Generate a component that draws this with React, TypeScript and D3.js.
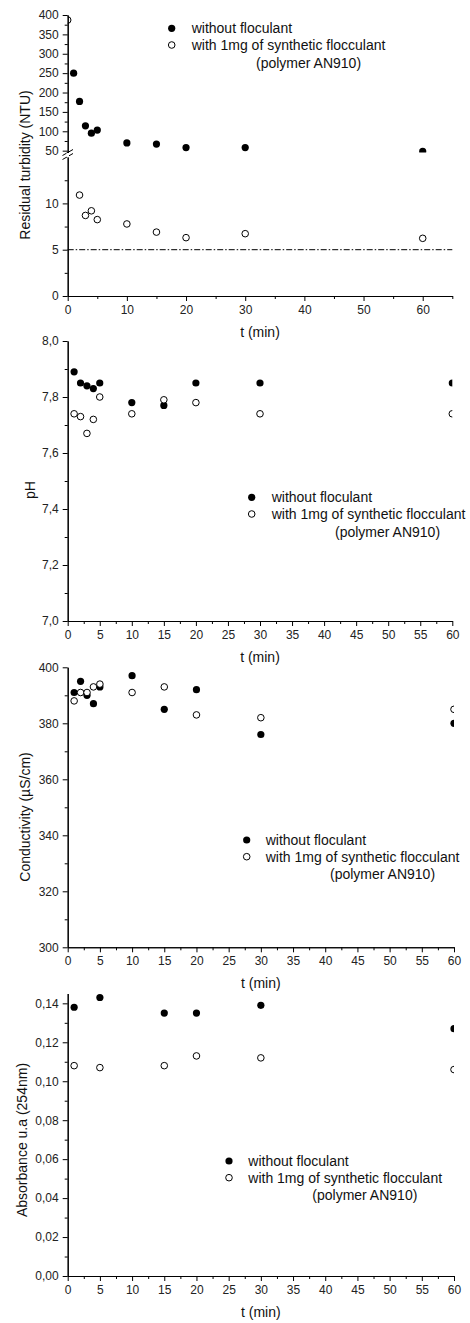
import React, { useEffect, useRef } from "react";
import * as d3 from "d3";

// time points (min)
const times = [1, 2, 3, 4, 5, 10, 15, 20, 30, 60];
const turbTimesWith = [0, 2, 3, 4, 5, 10, 15, 20, 30, 60];
const absTimes = [1, 5, 15, 20, 30, 60];

// residual turbidity (NTU)
const turbWithout = [250, 177, 114, 95, 103, 70, 67, 58, 58, 48];
const turbWith = [387, 10.9, 8.7, 9.2, 8.25, 7.78, 6.9, 6.3, 6.73, 6.23];
const turbLimit = 5;

// pH
const phWithout = [7.89, 7.85, 7.84, 7.83, 7.85, 7.78, 7.77, 7.85, 7.85, 7.85];
const phWith = [7.74, 7.73, 7.67, 7.72, 7.8, 7.74, 7.79, 7.78, 7.74, 7.74];

// conductivity (µS/cm)
const condWithout = [391, 395, 390, 387, 393, 397, 385, 392, 376, 380];
const condWith = [388, 391, 391, 393, 394, 391, 393, 383, 382, 385];

// absorbance 254nm
const absWithout = [0.138, 0.143, 0.135, 0.135, 0.139, 0.127];
const absWith = [0.108, 0.107, 0.108, 0.113, 0.112, 0.106];

const legendLabels = [
	"without floculant",
	"with 1mg of synthetic flocculant",
	"(polymer AN910)"
];

const FONT = "'Liberation Sans', Arial, Helvetica, sans-serif";
const TXT = "#111";
const R = 3.6;

const comma = (digits: number) => (d: any) =>
	d3.format(`.${digits}f`)(d).replace(".", ",");

function range(a: number, b: number, step: number) {
	const out: number[] = [];
	for (let v = a; v <= b + step / 1000; v += step) out.push(+v.toFixed(6));
	return out;
}

// draw an axis with major + minor ticks
function drawAxis(g: any, axisFn: any, scale: any, major: number[], minor: number[], fmt: any) {
	g.selectAll("*").remove();
	g.append("g").call(
		axisFn(scale).tickValues(minor).tickSize(3).tickSizeOuter(0).tickFormat(() => "")
	);
	g.append("g").call(
		axisFn(scale).tickValues(major).tickSize(5).tickSizeOuter(0).tickPadding(4).tickFormat(fmt)
	);
	g.selectAll("path.domain").attr("stroke", "#000").attr("stroke-width", 1.1);
	g.selectAll("line").attr("stroke", "#000").attr("stroke-width", 1);
	g.selectAll("text")
		.attr("font-family", FONT)
		.attr("font-size", 12)
		.attr("fill", "#222");
}

function Legend({ x, y, textX, polyX }: any) {
	return (
		<g fontFamily={FONT} fontSize={14} fill={TXT}>
			<circle cx={x} cy={y} r={R} fill="#000" />
			<text x={textX} y={y} dy="0.35em">{legendLabels[0]}</text>
			<circle cx={x} cy={y + 16.7} r={R - 0.3} fill="#fff" stroke="#000" strokeWidth={1} />
			<text x={textX} y={y + 16.7} dy="0.35em">{legendLabels[1]}</text>
			<text x={polyX} y={y + 34.5} dy="0.35em">{legendLabels[2]}</text>
		</g>
	);
}

function Points({ xs, ys, x, y, open, clip }: any) {
	return (
		<g clipPath={clip ? `url(#${clip})` : undefined}>
			{ys.map((v: number, i: number) => (
				<circle
					key={i}
					cx={x(xs[i])}
					cy={y(v)}
					r={open ? R - 0.3 : R}
					fill={open ? "#fff" : "#000"}
					stroke="#000"
					strokeWidth={open ? 1 : 0}
				/>
			))}
		</g>
	);
}

function TurbidityPanel() {
	const xAxisRef = useRef<SVGGElement>(null);
	const yUpRef = useRef<SVGGElement>(null);
	const yLowRef = useRef<SVGGElement>(null);

	const x = d3.scaleLinear().domain([0, 65]).range([67.7, 452.3]);
	const yUp = d3.scaleLinear().domain([45, 400]).range([152.6, 15]);
	const yLow = d3.scaleLinear().domain([0, 15]).range([296, 157.1]);

	useEffect(() => {
		drawAxis(d3.select(xAxisRef.current), d3.axisBottom, x, range(0, 60, 10), range(5, 65, 10), (d: any) => d);
		drawAxis(d3.select(yUpRef.current), d3.axisLeft, yUp, range(50, 400, 50), range(75, 375, 50), (d: any) => d);
		drawAxis(d3.select(yLowRef.current), d3.axisLeft, yLow, [0, 5, 10], [2.5, 7.5, 12.5], (d: any) => d);
	}, []);

	const ln = d3.line<number>().x((d) => d).y(() => yLow(turbLimit));

	return (
		<g>
			<defs>
				<clipPath id="clipUp">
					<rect x={67.7} y={5} width={400} height={152.6 - 5} />
				</clipPath>
				<clipPath id="clipLow">
					<rect x={67.7} y={157.1} width={400} height={296 - 157.1} />
				</clipPath>
			</defs>
			<path
				d={ln([x(0), x(65)]) || ""}
				stroke="#000"
				strokeWidth={1}
				strokeDasharray="6,2,1.5,2"
				fill="none"
			/>
			<Points xs={times} ys={turbWithout} x={x} y={yUp} clip="clipUp" />
			<Points xs={turbTimesWith.slice(0, 1)} ys={turbWith.slice(0, 1)} x={x} y={yUp} open clip="clipUp" />
			<Points xs={turbTimesWith.slice(1)} ys={turbWith.slice(1)} x={x} y={yLow} open clip="clipLow" />
			<g ref={xAxisRef} transform="translate(0,296)" />
			<g ref={yUpRef} transform="translate(67.7,0)" />
			<g ref={yLowRef} transform="translate(67.7,0)" />
			{/* axis break marks */}
			<g stroke="#000" strokeWidth={1}>
				<line x1={62.5} y1={155.5} x2={73} y2={149.5} />
				<line x1={62.5} y1={159.5} x2={73} y2={153.5} />
			</g>
			<rect x={66.5} y={153} width={2.5} height={4} fill="#fff" />
			<text
				transform="translate(25,165) rotate(-90)"
				textAnchor="middle"
				dy="0.35em"
				fontFamily={FONT}
				fontSize={14}
				fill={TXT}
			>
				Residual turbidity (NTU)
			</text>
			<text x={260} y={332} dy="0.35em" textAnchor="middle" fontFamily={FONT} fontSize={14} fill={TXT}>
				t (min)
			</text>
			<Legend x={171.7} y={28.3} textX={191.7} polyX={256} />
		</g>
	);
}

function Panel({ id, xRight, yTop, yBottom, yDomain, xs, without, withF, yMajor, yMinor, fmt, title, titleX, titleY, tLabelY, legend }: any) {
	const xRef = useRef<SVGGElement>(null);
	const yRef = useRef<SVGGElement>(null);
	const x = d3.scaleLinear().domain([0, 60]).range([67.7, xRight]);
	const y = d3.scaleLinear().domain(yDomain).range([yBottom, yTop]);

	useEffect(() => {
		drawAxis(d3.select(xRef.current), d3.axisBottom, x, range(0, 60, 5), range(2.5, 57.5, 5), (d: any) => d);
		drawAxis(d3.select(yRef.current), d3.axisLeft, y, yMajor, yMinor, fmt);
	}, []);

	return (
		<g>
			<defs>
				<clipPath id={id}>
					<rect x={67.7} y={yTop - 10} width={xRight - 67.7} height={yBottom - yTop + 10} />
				</clipPath>
			</defs>
			<Points xs={xs} ys={without} x={x} y={y} clip={id} />
			<Points xs={xs} ys={withF} x={x} y={y} open clip={id} />
			<g ref={xRef} transform={`translate(0,${yBottom})`} />
			<g ref={yRef} transform="translate(67.7,0)" />
			<text
				transform={`translate(${titleX},${titleY}) rotate(-90)`}
				textAnchor="middle"
				dy="0.35em"
				fontFamily={FONT}
				fontSize={14}
				fill={TXT}
			>
				{title}
			</text>
			<text x={(67.7 + xRight) / 2} y={tLabelY} dy="0.35em" textAnchor="middle" fontFamily={FONT} fontSize={14} fill={TXT}>
				t (min)
			</text>
			<Legend {...legend} />
		</g>
	);
}

export default function App() {
	return (
		<svg
			width={470}
			height={1323}
			style={{ position: "absolute", left: 0, top: 0, background: "#fff" }}
		>
			<rect width={470} height={1323} fill="#fff" />
			<TurbidityPanel />
			<Panel
				id="clipPh"
				xRight={452.3}
				yTop={341}
				yBottom={621}
				yDomain={[7.0, 8.0]}
				xs={times}
				without={phWithout}
				withF={phWith}
				yMajor={range(7.0, 8.0, 0.2)}
				yMinor={range(7.1, 7.9, 0.2)}
				fmt={comma(1)}
				title="pH"
				titleX={30}
				titleY={490}
				tLabelY={656.7}
				legend={{ x: 251.7, y: 497.3, textX: 271.7, polyX: 335 }}
			/>
			<Panel
				id="clipCond"
				xRight={454}
				yTop={667.3}
				yBottom={947.3}
				yDomain={[300, 400]}
				xs={times}
				without={condWithout}
				withF={condWith}
				yMajor={range(300, 400, 20)}
				yMinor={range(310, 390, 20)}
				fmt={(d: any) => d}
				title="Conductivity (µS/cm)"
				titleX={25}
				titleY={817}
				tLabelY={983.3}
				legend={{ x: 246.7, y: 840, textX: 265.7, polyX: 330 }}
			/>
			<Panel
				id="clipAbs"
				xRight={454}
				yTop={993.6}
				yBottom={1276}
				yDomain={[0, 0.145]}
				xs={absTimes}
				without={absWithout}
				withF={absWith}
				yMajor={range(0, 0.14, 0.02)}
				yMinor={range(0.01, 0.13, 0.02)}
				fmt={comma(2)}
				title="Absorbance u.a (254nm)"
				titleX={22.5}
				titleY={1140}
				tLabelY={1311.7}
				legend={{ x: 229, y: 1161, textX: 248.3, polyX: 312.3 }}
			/>
		</svg>
	);
}
